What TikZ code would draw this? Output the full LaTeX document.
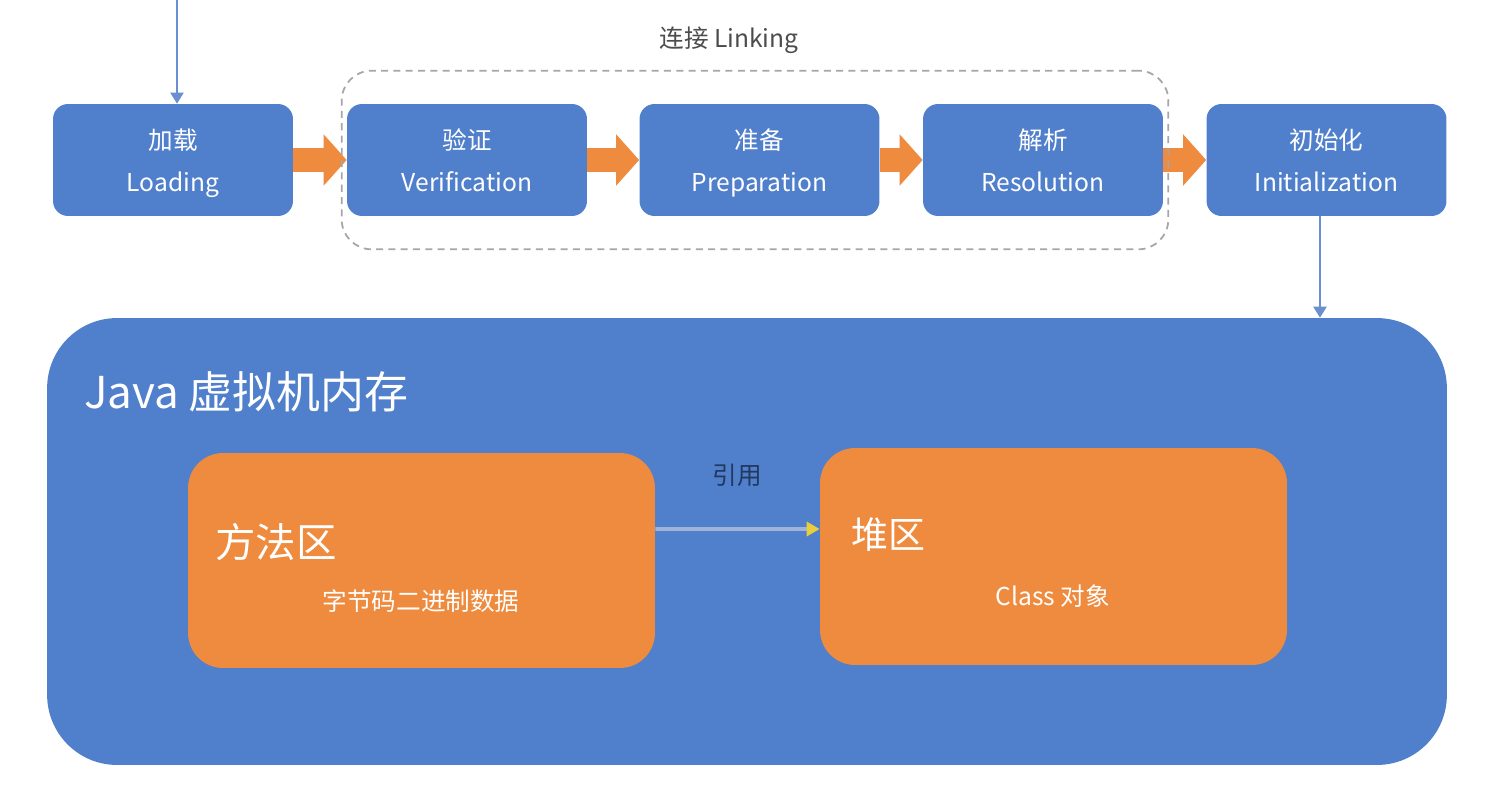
\documentclass[tikz,border=0pt]{standalone}
\usepackage{fontspec}
\setmainfont{Noto Sans CJK SC}
\usetikzlibrary{arrows.meta,positioning,fit}
\definecolor{boxblue}{RGB}{80,127,203}
\definecolor{boxorange}{RGB}{238,139,62}
\definecolor{feedblue}{RGB}{106,143,208}
\definecolor{refgray}{RGB}{160,178,214}
\definecolor{refyellow}{RGB}{232,205,60}
\definecolor{navy}{RGB}{35,55,95}

\begin{document}
\begin{tikzpicture}[x=0.02cm,y=-0.02cm,
  stage/.style={fill=boxblue,rounded corners=0.3cm,minimum width=4.8cm,minimum height=2.24cm,
    text=white,align=center,font=\fontsize{14}{24}\selectfont,text depth=0pt},
  flow/.style={draw=boxorange,line width=0.48cm,-{Triangle[length=0.46cm,width=1cm]}},
  feed/.style={draw=feedblue,line width=1.2pt,-{Triangle[length=0.22cm,width=0.26cm]}},
  area/.style={fill=boxorange,rounded corners=0.7cm,minimum width=9.34cm,minimum height=4.3cm},
  title/.style={anchor=west,text=white,font=\fontsize{21}{25}\selectfont}]
\useasboundingbox (0,0) rectangle (1488,792);

% class loading stages
\node[stage] (load) at (173,160) {加载\\Loading};
\node[stage] (verif) at (467,160) {验证\\Verification};
\node[stage] (prep) at (759.5,160) {准备\\Preparation};
\node[stage] (resol) at (1043,160) {解析\\Resolution};
\node[stage] (init) at (1326.5,160) {初始化\\Initialization};
\draw[flow] (load) -- (verif);
\draw[flow] (verif) -- (prep);
\draw[flow] (prep) -- (resol);
\draw[flow] (resol) -- (init);

% linking group
\node[draw=gray!70,dashed,dash pattern=on 4pt off 3pt,line width=1pt,rounded corners=0.6cm,
  fit=(verif)(resol),inner xsep=0.1cm,inner ysep=0.66cm] (link) {};
\node[text=black!70,font=\fontsize{14}{16}\selectfont] (linklabel) at (729,40) {连接 Linking};

% memory
\node[fill=boxblue,rounded corners=1.4cm,minimum width=28cm,minimum height=8.94cm] (mem) at (747,541.5) {};
\node[anchor=west,text=white,font=\fontsize{25}{30}\selectfont] (memtitle) at (78,392) {Java 虚拟机内存};

\coordinate (start) at (177,0);
\coordinate (initout) at ([xshift=-0.13cm]init.south);
\draw[feed] (start) -- (start |- load.north);
\draw[feed] (initout) -- (initout |- mem.north);

\node[area] (method) at (421.5,560.5) {};
\node[title,font=\fontsize{23}{27}\selectfont] (methodtitle) at (209,542) {方法区};
\node[text=white,font=\fontsize{14}{16}\selectfont] (methoddata) at (421,601) {字节码二进制数据};

\node[area,minimum height=4.34cm] (heap) at (1053.5,556.5) {};
\node[title] (heaptitle) at (845,535) {堆区};
\node[text=white,font=\fontsize{14}{16}\selectfont] (heapdata) at (1053,596) {Class 对象};

\draw[draw=refgray,line width=2.2pt,-{Triangle[length=0.26cm,width=0.28cm,color=refyellow]}]
  ([yshift=0.63cm]method.east) -- node[above=0.7cm,text=navy,font=\fontsize{14}{16}\selectfont] (reflabel) {引用}
  ([yshift=0.55cm]heap.west);
\end{tikzpicture}
\end{document}
